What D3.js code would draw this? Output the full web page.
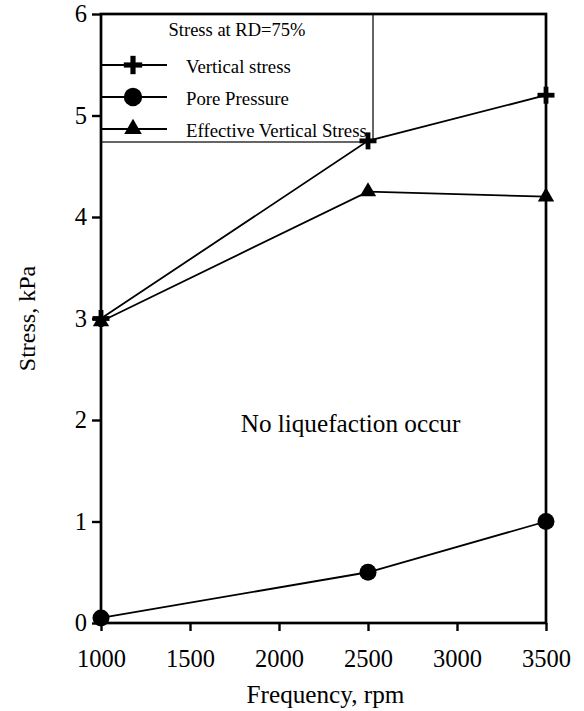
<!DOCTYPE html>
<html>
<head>
<meta charset="utf-8">
<script src="https://cdn.jsdelivr.net/npm/d3@7"></script>
<style>
  html, body { margin: 0; padding: 0; background: #fff; }
  svg text { font-family: "Liberation Serif", "Times New Roman", serif; fill: #000; }
</style>
</head>
<body>
<svg id="chart" width="584" height="711"></svg>
<script>
// Frequency (rpm) at which each stress was measured
const frequency = [1000, 2500, 3500];
// Stresses in kPa
const verticalStress = [3.0, 4.75, 5.2];
const porePressure = [0.05, 0.5, 1.0];
const effectiveStress = [2.97, 4.25, 4.2];
const xTicks = [1000, 1500, 2000, 2500, 3000, 3500];
const yTicks = [0, 1, 2, 3, 4, 5, 6];
const legendTitle = "Stress at RD=75%";
const seriesNames = ["Vertical stress", "Pore Pressure", "Effective Vertical Stress"];

const svg = d3.select("#chart");
const serif = '"Liberation Serif", "Times New Roman", serif';
const plotLeft = 101, plotRight = 546, plotTop = 14, plotBottom = 623;

const x = d3.scaleLinear().domain([1000, 3500]).range([plotLeft, plotRight]);
const y = d3.scaleLinear().domain([0, 6]).range([plotBottom, plotTop]);

// Bottom axis
const xAxis = svg.append("g").attr("transform", `translate(0,${plotBottom})`)
  .call(d3.axisBottom(x).tickValues(xTicks).tickSize(8).tickPadding(19).tickFormat(d3.format("d")));
// Left axis
const yAxis = svg.append("g").attr("transform", `translate(${plotLeft},0)`)
  .call(d3.axisLeft(y).tickValues(yTicks).tickSize(9).tickPadding(5).tickFormat(d3.format("d")));
[xAxis, yAxis].forEach(g => {
  g.select(".domain").remove();
  g.selectAll(".tick line").attr("stroke", "#000").attr("stroke-width", 2.4);
  g.selectAll(".tick text").style("font-family", serif).style("font-size", "24.5px");
});

// Axis titles
svg.append("text").attr("x", 325.5).attr("y", 703)
  .attr("text-anchor", "middle").style("font-size", "25.2px").text("Frequency, rpm");
svg.append("text").attr("transform", `translate(35,${(plotTop + plotBottom) / 2}) rotate(-90)`)
  .attr("text-anchor", "middle").style("font-size", "24px").text("Stress, kPa");

// Annotation
svg.append("text").attr("x", 350.5).attr("y", 432)
  .attr("text-anchor", "middle").style("font-size", "25.2px").text("No liquefaction occur");

// Marker shapes: bold plus, filled circle, filled triangle
function drawMarker(g, i, cx, cy, s) {
  if (i === 0) {
    const half = 8.5 * s, arm = 2.4 * s;
    g.append("rect").attr("x", cx - half).attr("y", cy - arm).attr("width", 2 * half).attr("height", 2 * arm).attr("fill", "#000");
    g.append("rect").attr("x", cx - arm).attr("y", cy - half).attr("width", 2 * arm).attr("height", 2 * half).attr("fill", "#000");
  } else {
    const type = i === 1 ? d3.symbolCircle : d3.symbolTriangle;
    const size = i === 1 ? 227 : 115;
    g.append("path").attr("d", d3.symbol().type(type).size(size * s * s)())
      .attr("transform", `translate(${cx},${cy})`).attr("fill", "#000");
  }
}

// Legend (drawn under the data marks)
const lg = svg.append("g");
lg.append("rect").attr("x", plotLeft).attr("y", plotTop).attr("width", 373 - plotLeft).attr("height", 142 - plotTop)
  .attr("fill", "#fff").attr("stroke", "#000").attr("stroke-width", 1.2);
lg.append("text").attr("x", 237).attr("y", 36).attr("text-anchor", "middle")
  .style("font-size", "18.5px").text(legendTitle);
const legendY = [65, 97, 129];
seriesNames.forEach((name, i) => {
  const ly = legendY[i];
  lg.append("line").attr("x1", plotLeft).attr("x2", 167).attr("y1", ly).attr("y2", ly)
    .attr("stroke", "#000").attr("stroke-width", 1.8);
  drawMarker(lg, i, 133, ly, 1.08);
  lg.append("text").attr("x", 186).attr("y", ly + 7.5).style("font-size", "18.8px").text(name);
});

// Frame
svg.append("rect").attr("x", plotLeft).attr("y", plotTop)
  .attr("width", plotRight - plotLeft).attr("height", plotBottom - plotTop)
  .attr("fill", "none").attr("stroke", "#000").attr("stroke-width", 2.7);

// Data lines and markers
const line = d3.line().x(d => x(d[0])).y(d => y(d[1]));
const series = [verticalStress, porePressure, effectiveStress];
series.forEach(vals => {
  const pts = frequency.map((f, k) => [f, vals[k]]);
  svg.append("path").datum(pts).attr("d", line)
    .attr("fill", "none").attr("stroke", "#000").attr("stroke-width", 1.8);
});
series.forEach((vals, i) => {
  const g = svg.append("g");
  frequency.forEach((f, k) => drawMarker(g, i, x(f), y(vals[k]), 1));
});
</script>
</body>
</html>
